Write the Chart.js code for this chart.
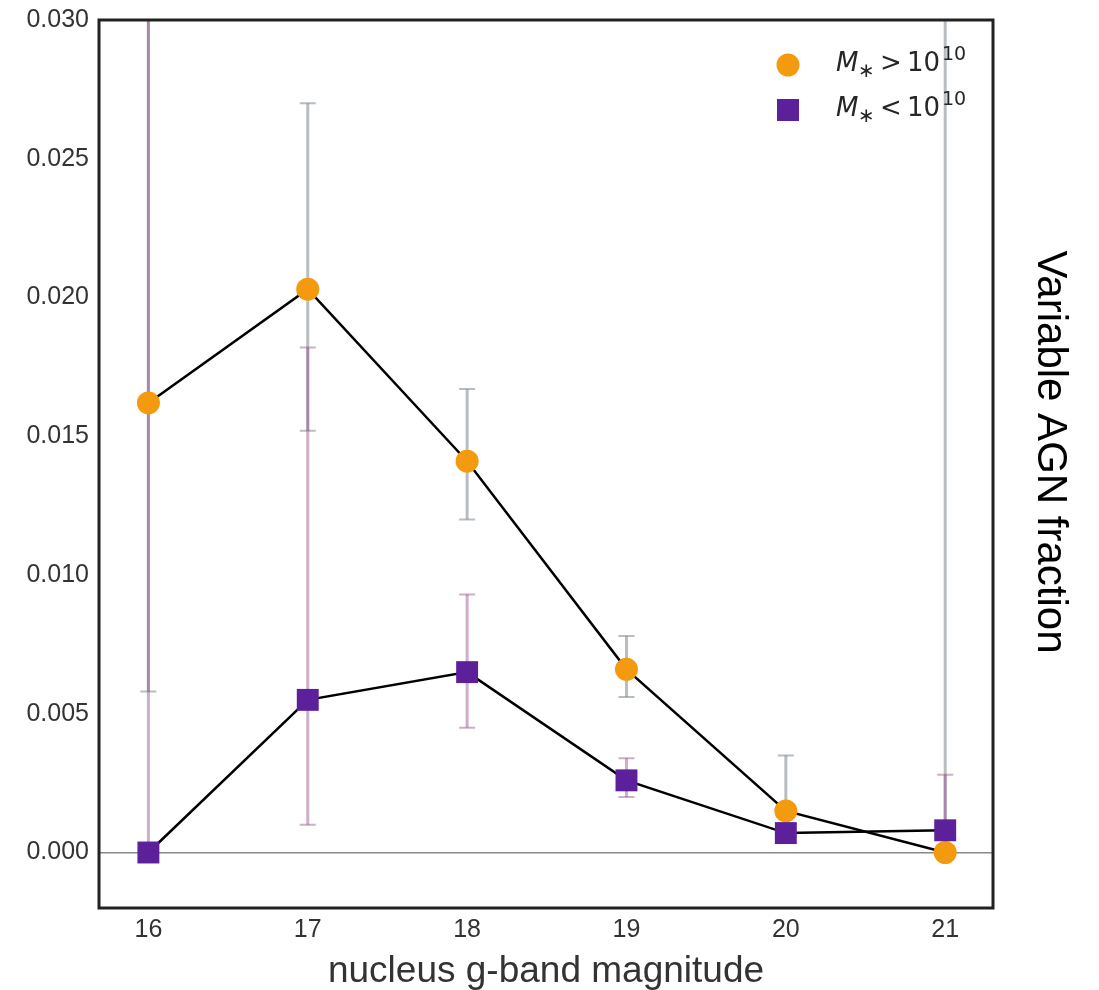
<!DOCTYPE html>
<html>
<head>
<meta charset="utf-8">
<script src="https://cdn.jsdelivr.net/npm/chart.js@4"></script>
<style>
  html, body { margin: 0; padding: 0; background: #fff; }
  #wrap { width: 1099px; height: 990px; position: relative; }
</style>
</head>
<body>
<div id="wrap"><canvas id="agnChart"></canvas></div>
<script>
// Data
const magnitudes = [16, 17, 18, 19, 20, 21];
const highMass = [0.0162, 0.0203, 0.0141, 0.0066, 0.0015, 0.0];
const highMassLow = [0.0058, 0.0152, 0.0120, 0.0056, 0.0010, 0.0];
const highMassHigh = [0.040, 0.0270, 0.0167, 0.0078, 0.0035, 0.040];
const lowMass = [0.0, 0.0055, 0.0065, 0.0026, 0.0007, 0.0008];
const lowMassLow = [0.0, 0.0010, 0.0045, 0.0020, 0.0005, 0.0006];
const lowMassHigh = [0.040, 0.0182, 0.0093, 0.0034, 0.0010, 0.0028];
const yTicks = [0, 0.005, 0.010, 0.015, 0.020, 0.025, 0.030];

const orange = '#f39a0e';
const purple = '#5c209a';

// error bars, drawn under the lines
const errorBars = {
    id: 'errorBars',
    beforeDatasetsDraw(chart) {
        const c = chart.ctx, x = chart.scales.x, y = chart.scales.y, a = chart.chartArea;
        const sets = [
            [highMassLow, highMassHigh, 'rgba(125,135,142,0.55)'],
            [lowMassLow, lowMassHigh, 'rgba(145,75,140,0.45)']
        ];
        c.save();
        c.beginPath();
        c.rect(a.left, a.top, a.right - a.left, a.bottom - a.top);
        c.clip();
        sets.forEach(([lo, hi, col]) => {
            c.strokeStyle = col;
            magnitudes.forEach((m, i) => {
                const px = x.getPixelForValue(m);
                const y1 = y.getPixelForValue(lo[i]);
                const y2 = y.getPixelForValue(hi[i]);
                c.lineWidth = 3;
                c.beginPath();
                c.moveTo(px, y1);
                c.lineTo(px, y2);
                c.stroke();
                c.lineWidth = 2;
                c.beginPath();
                c.moveTo(px - 8, y1); c.lineTo(px + 8, y1);
                c.moveTo(px - 8, y2); c.lineTo(px + 8, y2);
                c.stroke();
            });
        });
        c.restore();
    },
    afterDraw(chart) {
        const c = chart.ctx, a = chart.chartArea;
        c.save();
        // frame
        c.strokeStyle = '#222';
        c.lineWidth = 3;
        c.strokeRect(a.left, a.top, a.right - a.left, a.bottom - a.top);

        // right side title
        c.fillStyle = '#000';
        c.font = '42px "Liberation Sans", Arial, sans-serif';
        c.translate(1050, 452);
        c.rotate(Math.PI / 2);
        c.textAlign = 'center';
        c.textBaseline = 'middle';
        c.fillText('Variable AGN fraction', 0, 0);
        c.restore();

        // legend
        c.save();
        const rows = [[orange, 'circle', '>'], [purple, 'rect', '<']];
        rows.forEach(([col, shape, sign], k) => {
            const cy = 65 + k * 45;
            c.fillStyle = col;
            if (shape === 'circle') {
                c.beginPath();
                c.arc(788, cy, 11.5, 0, Math.PI * 2);
                c.fill();
            } else {
                c.fillRect(777, cy - 11, 22, 22);
            }
            c.fillStyle = '#262626';
            c.textBaseline = 'alphabetic';
            const base = cy + 6;
            c.font = 'italic 26px "DejaVu Sans", sans-serif';
            c.fillText('M', 836, base);
            c.font = '20px "DejaVu Sans", sans-serif';
            c.fillText('\u2217', 858, base + 6);
            c.font = '26px "DejaVu Sans", sans-serif';
            c.fillText(sign, 880, base);
            c.fillText('10', 907, base);
            c.font = '19px "DejaVu Sans", sans-serif';
            c.fillText('10', 942, base - 11);
        });
        c.restore();
    }
};

const ctx = document.getElementById('agnChart');

new Chart(ctx, {
    type: 'line',
    data: {
        datasets: [{
            label: 'M* > 10^10',
            data: magnitudes.map((m, i) => ({x: m, y: highMass[i]})),
            borderColor: '#000',
            borderWidth: 2.5,
            pointStyle: 'circle',
            pointRadius: 11.5,
            pointBackgroundColor: orange,
            pointBorderWidth: 0,
            order: 1
        }, {
            label: 'M* < 10^10',
            data: magnitudes.map((m, i) => ({x: m, y: lowMass[i]})),
            borderColor: '#000',
            borderWidth: 2.5,
            pointStyle: 'rect',
            pointRadius: 15.5,
            pointBackgroundColor: purple,
            pointBorderWidth: 0,
            order: 0
        }]
    },
    plugins: [errorBars],
    options: {
        responsive: true,
        maintainAspectRatio: false,
        animation: false,
        layout: {
            padding: {top: 20, right: 106, left: 0, bottom: 0}
        },
        scales: {
            x: {
                type: 'linear',
                min: 15.69,
                max: 21.3,
                afterBuildTicks: (s) => { s.ticks = magnitudes.map(v => ({value: v})); },
                afterFit: (s) => { s.height = 82; },
                ticks: {
                    color: '#333',
                    padding: 7,
                    font: {size: 25, family: '"Liberation Sans", Arial, sans-serif'},
                    callback: (v) => String(v)
                },
                grid: {display: false, drawTicks: false},
                border: {display: false},
                title: {
                    display: true,
                    text: 'nucleus g-band magnitude',
                    color: '#333',
                    padding: {top: 5, bottom: 0},
                    font: {size: 37, lineHeight: 1.0, family: '"Liberation Sans", Arial, sans-serif'}
                }
            },
            y: {
                min: -0.002,
                max: 0.030,
                afterBuildTicks: (s) => { s.ticks = yTicks.map(v => ({value: v})); },
                afterFit: (s) => { s.width = 99; s.paddingTop = 0; },
                ticks: {
                    color: '#333',
                    padding: 10,
                    font: {size: 25, lineHeight: 1.0, family: '"Liberation Sans", Arial, sans-serif'},
                    callback: (v) => v.toFixed(3)
                },
                grid: {
                    drawTicks: false,
                    lineWidth: 1.5,
                    color: (c) => c.tick && c.tick.value === 0 ? '#888' : 'rgba(0,0,0,0)'
                },
                border: {display: false}
            }
        },
        plugins: {
            legend: {display: false},
            tooltip: {enabled: false}
        }
    }
});
</script>
</body>
</html>
